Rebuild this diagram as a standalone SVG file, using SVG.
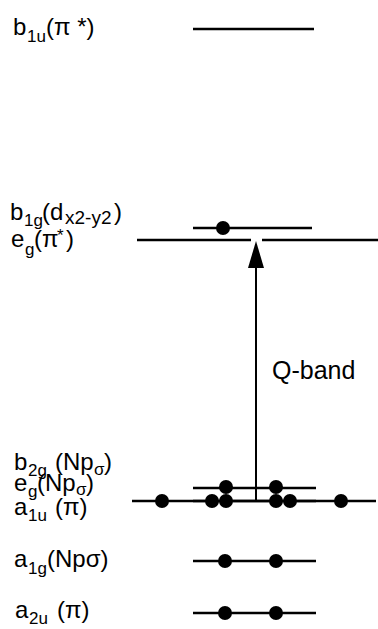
<svg xmlns="http://www.w3.org/2000/svg" width="378" height="629" viewBox="0 0 378 629">
<style>
.t{font-family:"Liberation Sans",Arial,sans-serif;font-size:24px;fill:#000}
.s{font-size:17px}
.lv{stroke:#000;stroke-width:2.5;fill:none}
.e{fill:#000}
</style>
<rect width="378" height="629" fill="#fff"/>
<g id="b1u">
<line class="lv" x1="193" y1="29" x2="314" y2="29"/>
<text class="t"><tspan x="13" y="35">b</tspan><tspan class="s" x="27" y="42">1u</tspan><tspan x="46" y="35">(π *)</tspan></text>
</g>
<g id="b1g">
<line class="lv" x1="193" y1="228" x2="312" y2="228"/>
<circle class="e" cx="223" cy="228" r="7"/>
<text class="t"><tspan x="10" y="220">b</tspan><tspan class="s" x="24" y="226">1g</tspan><tspan x="42" y="220">(d</tspan><tspan class="s" x="65" y="224" style="font-size:19px">x2-y2</tspan><tspan x="114" y="220">)</tspan></text>
</g>
<g id="eg-pi">
<line class="lv" x1="137" y1="240" x2="251" y2="240"/>
<line class="lv" x1="262" y1="240" x2="378" y2="240"/>
<text class="t"><tspan x="11" y="247">e</tspan><tspan class="s" x="25" y="255">g</tspan><tspan x="34" y="247">(π</tspan><tspan class="s" x="57" y="241">*</tspan><tspan x="66" y="247">)</tspan></text>
</g>
<g id="b2g">
<line class="lv" x1="193" y1="488" x2="316" y2="488"/>
<circle class="e" cx="226" cy="487" r="7"/>
<circle class="e" cx="276" cy="487" r="7"/>
<text class="t"><tspan x="14" y="470">b</tspan><tspan class="s" x="28" y="476">2g</tspan><tspan x="55" y="470">(Np</tspan><tspan class="s" x="94" y="475">σ</tspan><tspan x="104" y="470">)</tspan></text>
</g>
<g id="eg-np">
<line class="lv" x1="193" y1="501" x2="316" y2="501"/>
<circle class="e" cx="212" cy="501" r="7"/>
<circle class="e" cx="226" cy="501" r="7"/>
<circle class="e" cx="276" cy="501" r="7"/>
<circle class="e" cx="290" cy="501" r="7"/>
<text class="t"><tspan x="14" y="491">e</tspan><tspan class="s" x="28" y="497">g</tspan><tspan x="37" y="491">(Np</tspan><tspan class="s" x="76" y="495">σ</tspan><tspan x="86" y="491">)</tspan></text>
</g>
<g id="a1u">
<line class="lv" x1="132" y1="501" x2="376" y2="501"/>
<circle class="e" cx="162" cy="501" r="7"/>
<circle class="e" cx="341" cy="501" r="7"/>
<text class="t"><tspan x="14" y="515">a</tspan><tspan class="s" x="28" y="521">1u</tspan><tspan x="55" y="515">(π)</tspan></text>
</g>
<g id="a1g">
<line class="lv" x1="193" y1="561" x2="316" y2="561"/>
<circle class="e" cx="225" cy="561" r="7"/>
<circle class="e" cx="276" cy="561" r="7"/>
<text class="t"><tspan x="14" y="567">a</tspan><tspan class="s" x="28" y="574">1g</tspan><tspan x="47" y="567">(Npσ)</tspan></text>
</g>
<g id="a2u">
<line class="lv" x1="193" y1="613" x2="316" y2="613"/>
<circle class="e" cx="225" cy="613" r="7"/>
<circle class="e" cx="276" cy="613" r="7"/>
<text class="t"><tspan x="15" y="618">a</tspan><tspan class="s" x="29" y="624">2u</tspan><tspan x="57" y="618">(π)</tspan></text>
</g>
<g id="connectors">
<line x1="256" y1="502" x2="256" y2="266" stroke="#000" stroke-width="2"/>
<polygon points="256,241 248,268 264,268" fill="#000"/>
<text class="t" x="272" y="379" style="font-size:25px">Q-band</text>
</g>
</svg>
